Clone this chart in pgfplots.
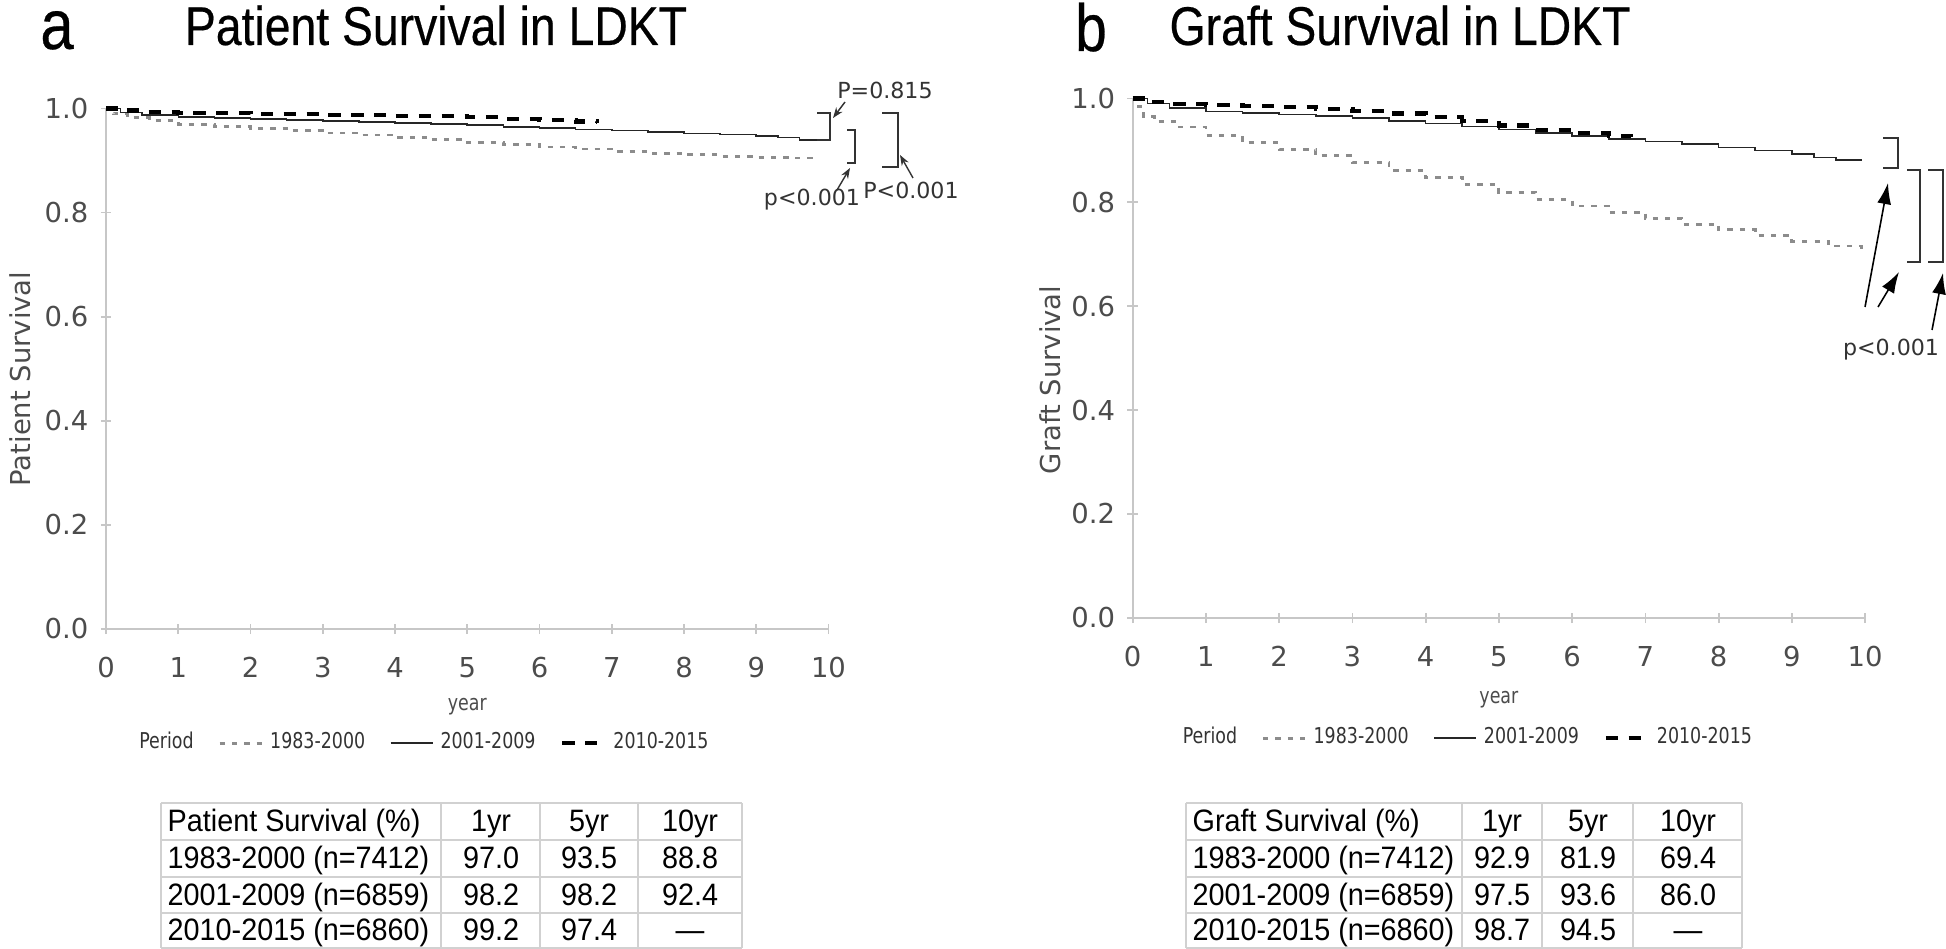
\documentclass[border=0pt]{standalone}
\usepackage{fontspec}
\usepackage{pgfplots}
\pgfplotsset{compat=1.18}
\usetikzlibrary{arrows.meta}
\setmainfont{Liberation Sans}
\newfontfamily\tickfont{DejaVu Sans}
\newfontfamily\legfont{DejaVu Sans}[FakeStretch=0.8]
\newfontfamily\titlefont{Liberation Sans}[FakeStretch=0.85, FakeBold=0.4]
\newfontfamily\tabfont{Liberation Sans}[FakeStretch=0.93]
\newcommand\tickf{\tickfont\fontsize{7.8}{9}\selectfont}
\newcommand\legf{\legfont\fontsize{6.2}{7}\selectfont}
\newcommand\tabf{\tabfont\fontsize{8.8}{10}\selectfont}
\newcommand\annf{\tickfont\fontsize{6.3}{7.5}\selectfont}

\definecolor{axgray}{gray}{0.78}
\definecolor{ticktext}{gray}{0.3}
\definecolor{gridline}{gray}{0.82}

\pgfplotsset{
  km/.style={
    scale only axis, width=7.22cm, height=5.2cm,
    xmin=0, xmax=10, ymin=0, ymax=1,
    axis lines*=left,
    axis line style={axgray, line width=0.5pt, -},
    xtick={0,1,...,10}, ytick={0,0.2,0.4,0.6,0.8,1},
    tick style={axgray, line width=0.5pt},
    tick align=center, major tick length=3pt,
    tick label style={font=\tickf, text=ticktext},
    /pgf/number format/assume math mode=true,
    yticklabel style={/pgf/number format/.cd, fixed, fixed zerofill, precision=1},
    xticklabel style={yshift=-3pt},
    ylabel style={font=\tickf, text=ticktext, anchor=center},
    xlabel style={font=\legf, text=ticktext, anchor=center},
    legend columns=4,
    legend style={draw=none, fill=none, font=\legf, text=black!80, anchor=center,
      /tikz/every even column/.append style={column sep=5pt}},
    legend image code/.code={\draw[##1] (0cm,0cm) -- (0.42cm,0cm);},
    clip=false,
  },
  s1/.style={black!45, line width=0.8pt, dash pattern=on 1.5pt off 2pt},
  s2/.style={black!85, line width=0.45pt},
  s3/.style={black, line width=1.2pt, dash pattern=on 3.5pt off 3pt},
}

\begin{document}
\begin{tikzpicture}[x=0.01cm, y=0.01cm]
\path[use as bounding box] (0,0) rectangle (1946,949);

% titles
\node[anchor=base, inner sep=0, text height=11pt, font=\titlefont\fontsize{20}{22}\selectfont] at (57,900) {a};
\node[anchor=base, inner sep=0, font=\titlefont\fontsize{15.5}{18}\selectfont] at (436,904) {Patient Survival in LDKT};
\node[anchor=base, inner sep=0, font=\titlefont\fontsize{19}{22}\selectfont] at (1091,898) {b};
\node[anchor=base, inner sep=0, font=\titlefont\fontsize{15.5}{18}\selectfont] at (1400,904) {Graft Survival in LDKT};

% ---- panel a
\begin{axis}[km, at={(1.06cm,3.20cm)}, anchor=south west,
  ylabel={Patient Survival}, xlabel={year},
  ylabel style={at={(axis description cs:-0.119,0.48)}},
  xlabel style={at={(axis description cs:0.5,-0.149)}},
  legend style={at={(axis description cs:0.44,-0.22)}}]
\addlegendimage{empty legend}\addlegendentry{Period}
\addplot[s1, const plot] coordinates {
 (0,1.000) (0.1,0.990) (0.3,0.982) (0.6,0.977) (1,0.970) (1.5,0.966) (2,0.961)
 (2.5,0.957) (3,0.953) (3.5,0.949) (4,0.945) (4.5,0.940) (5,0.935) (5.5,0.931)
 (6,0.926) (6.5,0.922) (7,0.918) (7.5,0.914) (8,0.911) (8.5,0.908) (9,0.906)
 (9.5,0.905) (9.85,0.905)};
\addlegendentry{1983-2000}
\addplot[s2, const plot] coordinates {
 (0,1.000) (0.2,0.992) (0.5,0.988) (1,0.984) (1.5,0.982) (2,0.980) (2.5,0.978)
 (3,0.976) (3.5,0.974) (4,0.972) (4.5,0.970) (5,0.968) (5.5,0.965) (6,0.962)
 (6.5,0.960) (7,0.958) (7.5,0.955) (8,0.952) (8.5,0.950) (9,0.947) (9.3,0.944)
 (9.6,0.940) (10,0.940)};
\addlegendentry{2001-2009}
\addplot[s3, const plot] coordinates {
 (0,1.000) (0.2,0.996) (0.5,0.994) (1,0.992) (2,0.990) (3,0.988) (4,0.986)
 (5,0.983) (5.5,0.980) (6,0.978) (6.5,0.975) (6.8,0.973)};
\addlegendentry{2010-2015}
\end{axis}

% ---- panel b
\begin{axis}[km, at={(11.32cm,3.31cm)}, anchor=south west, width=7.32cm, height=5.19cm,
  ylabel={Graft Survival}, xlabel={year},
  ylabel style={at={(axis description cs:-0.112,0.458)}},
  xlabel style={at={(axis description cs:0.5,-0.158)}},
  legend style={at={(axis description cs:0.457,-0.232)}}]
\addlegendimage{empty legend}\addlegendentry{Period}
\addplot[s1, const plot] coordinates {
 (0,1.000) (0.05,0.985) (0.15,0.965) (0.3,0.955) (0.6,0.945) (1,0.929) (1.5,0.915)
 (2,0.902) (2.5,0.890) (3,0.877) (3.5,0.862) (4,0.848) (4.5,0.834) (5,0.819)
 (5.5,0.806) (6,0.793) (6.5,0.781) (7,0.769) (7.5,0.758) (8,0.747) (8.5,0.736)
 (9,0.725) (9.5,0.716) (9.95,0.710)};
\addlegendentry{1983-2000}
\addplot[s2, const plot] coordinates {
 (0,1.000) (0.2,0.990) (0.5,0.982) (1,0.975) (1.5,0.972) (2,0.969) (2.5,0.966)
 (3,0.962) (3.5,0.957) (4,0.952) (4.5,0.946) (5,0.940) (5.5,0.934) (6,0.928)
 (6.5,0.922) (7,0.917) (7.5,0.912) (8,0.906) (8.5,0.900) (9,0.893) (9.3,0.886)
 (9.6,0.882) (9.95,0.879)};
\addlegendentry{2001-2009}
\addplot[s3, const plot] coordinates {
 (0,1.000) (0.2,0.993) (0.5,0.990) (1,0.987) (1.5,0.985) (2,0.983) (2.5,0.980)
 (3,0.976) (3.5,0.971) (4,0.965) (4.5,0.957) (5,0.948) (5.5,0.940) (6,0.933)
 (6.5,0.928) (6.8,0.925)};
\addlegendentry{2010-2015}
\end{axis}

% ---- annotations, panel a
\begin{scope}[black!80, line width=0.8pt]
\draw (817,836) -- (830,836) -- (830,809) -- (817,809);
\draw (847,819) -- (855,819) -- (855,786) -- (847,786);
\draw (882,836) -- (898,836) -- (898,782) -- (882,782);
\draw[line width=0.4pt, -{Stealth[length=3pt,width=2.2pt]}] (845,847) -- (833,831);
\draw[line width=0.4pt, -{Stealth[length=3pt,width=2.2pt]}] (837,759) -- (850,781);
\draw[line width=0.4pt, -{Stealth[length=3pt,width=2.2pt]}] (913,771) -- (900,794);
\end{scope}
\node[font=\annf, text=black!80] at (885,859) {P=0.815};
\node[font=\annf, text=black!80] at (812,749) {p<0.001};
\node[font=\annf, text=black!80] at (911,759) {P<0.001};

% ---- annotations, panel b
\begin{scope}[black!80, line width=0.8pt]
\draw (1883,811) -- (1898,811) -- (1898,781) -- (1883,781);
\draw (1907,779) -- (1920,779) -- (1920,687) -- (1907,687);
\draw (1928,779) -- (1943,779) -- (1943,687) -- (1928,687);
\end{scope}
\begin{scope}[black, line width=0.45pt, -{Latex[length=6pt,width=4pt]}]
\draw (1865,642) -- (1888,766);
\draw (1878,642) -- (1899,677);
\draw (1932,619) -- (1943,676);
\end{scope}
\node[font=\annf, text=black!80] at (1891,599) {p<0.001};

% ---- table, panel a
\begin{scope}[gridline, line width=0.6pt]
\foreach \x in {161,441,540,638,742} \draw (\x,1) -- (\x,146);
\foreach \y in {1,36,72,109,146} \draw (161,\y) -- (742,\y);
\end{scope}
\begin{scope}[font=\tabf, every node/.style={inner sep=0}]
\node[anchor=base west] at (167,117) {Patient Survival (\%)};
\node[anchor=base] at (491,117) {1yr};
\node[anchor=base] at (589,117) {5yr};
\node[anchor=base] at (690,117) {10yr};
\node[anchor=base west] at (167,80) {1983-2000 (n=7412)};
\node[anchor=base] at (491,80) {97.0};
\node[anchor=base] at (589,80) {93.5};
\node[anchor=base] at (690,80) {88.8};
\node[anchor=base west] at (167,43) {2001-2009 (n=6859)};
\node[anchor=base] at (491,43) {98.2};
\node[anchor=base] at (589,43) {98.2};
\node[anchor=base] at (690,43) {92.4};
\node[anchor=base west] at (167,8) {2010-2015 (n=6860)};
\node[anchor=base] at (491,8) {99.2};
\node[anchor=base] at (589,8) {97.4};
\node[anchor=base] at (690,8) {\textemdash};
\end{scope}

% ---- table, panel b
\begin{scope}[gridline, line width=0.6pt]
\foreach \x in {1186,1462,1542,1633,1742} \draw (\x,1) -- (\x,146);
\foreach \y in {1,36,72,109,146} \draw (1186,\y) -- (1742,\y);
\end{scope}
\begin{scope}[font=\tabf, every node/.style={inner sep=0}]
\node[anchor=base west] at (1192,117) {Graft Survival (\%)};
\node[anchor=base] at (1502,117) {1yr};
\node[anchor=base] at (1588,117) {5yr};
\node[anchor=base] at (1688,117) {10yr};
\node[anchor=base west] at (1192,80) {1983-2000 (n=7412)};
\node[anchor=base] at (1502,80) {92.9};
\node[anchor=base] at (1588,80) {81.9};
\node[anchor=base] at (1688,80) {69.4};
\node[anchor=base west] at (1192,43) {2001-2009 (n=6859)};
\node[anchor=base] at (1502,43) {97.5};
\node[anchor=base] at (1588,43) {93.6};
\node[anchor=base] at (1688,43) {86.0};
\node[anchor=base west] at (1192,8) {2010-2015 (n=6860)};
\node[anchor=base] at (1502,8) {98.7};
\node[anchor=base] at (1588,8) {94.5};
\node[anchor=base] at (1688,8) {\textemdash};
\end{scope}
\end{tikzpicture}
\end{document}
